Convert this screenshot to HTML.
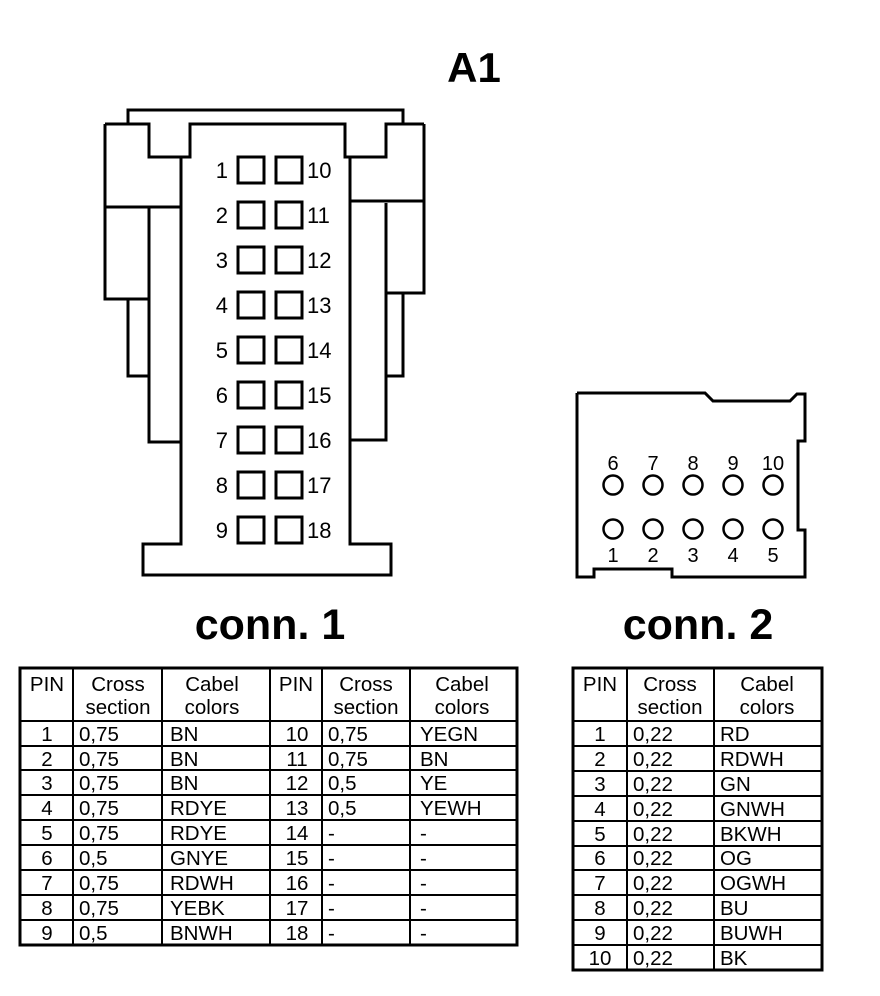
<!DOCTYPE html>
<html><head><meta charset="utf-8"><style>
html,body{margin:0;padding:0;background:#fff;}
svg{display:block;font-family:"Liberation Sans",Arial,sans-serif;}
</style></head><body>
<svg width="880" height="996" viewBox="0 0 880 996" xmlns="http://www.w3.org/2000/svg">
<g fill="none" stroke="#000" stroke-width="3" stroke-linejoin="miter">
<polyline points="128,124 128,110 403,110 403,124"/>
<polyline points="105,124 149,124 149,157 190,157 190,124 345,124 345,157 386,157 386,124 424,124"/>
<polyline points="105,124 105,299 149,299"/>
<polyline points="424,124 424,293 386,293"/>
<polyline points="181,157 181,544 143,544 143,575 391,575 391,544 350,544 350,157"/>
<line x1="105" y1="207" x2="181" y2="207"/>
<polyline points="149,207 149,442 181,442"/>
<polyline points="128,299 128,376 149,376"/>
<line x1="350" y1="201" x2="424" y2="201"/>
<polyline points="386,203 386,440 350,440"/>
<polyline points="403,293 403,376 386,376"/>
</g>
<g fill="none" stroke="#000" stroke-width="3">
<rect x="238" y="157" width="26" height="26"/><rect x="276" y="157" width="26" height="26"/>
<rect x="238" y="202" width="26" height="26"/><rect x="276" y="202" width="26" height="26"/>
<rect x="238" y="247" width="26" height="26"/><rect x="276" y="247" width="26" height="26"/>
<rect x="238" y="292" width="26" height="26"/><rect x="276" y="292" width="26" height="26"/>
<rect x="238" y="337" width="26" height="26"/><rect x="276" y="337" width="26" height="26"/>
<rect x="238" y="382" width="26" height="26"/><rect x="276" y="382" width="26" height="26"/>
<rect x="238" y="427" width="26" height="26"/><rect x="276" y="427" width="26" height="26"/>
<rect x="238" y="472" width="26" height="26"/><rect x="276" y="472" width="26" height="26"/>
<rect x="238" y="517" width="26" height="26"/><rect x="276" y="517" width="26" height="26"/>
</g>
<g font-size="22" fill="#000" text-anchor="end">
<text x="228" y="178">1</text><text x="228" y="223">2</text><text x="228" y="268">3</text>
<text x="228" y="313">4</text><text x="228" y="358">5</text><text x="228" y="403">6</text>
<text x="228" y="448">7</text><text x="228" y="493">8</text><text x="228" y="538">9</text>
</g>
<g font-size="22" fill="#000">
<text x="307" y="178">10</text><text x="307" y="223">11</text><text x="307" y="268">12</text>
<text x="307" y="313">13</text><text x="307" y="358">14</text><text x="307" y="403">15</text>
<text x="307" y="448">16</text><text x="307" y="493">17</text><text x="307" y="538">18</text>
</g>
<text x="474" y="82" font-size="42" font-weight="bold" text-anchor="middle">A1</text>
<text x="270" y="639" font-size="43" font-weight="bold" text-anchor="middle">conn. 1</text>
<text x="698" y="639" font-size="43" font-weight="bold" text-anchor="middle">conn. 2</text>

<polyline fill="none" stroke="#000" stroke-width="3" points="577,393 705,393 713,401 790,401 797,394 805,394 805,441 798,441 798,530 805,530 805,577 672,577 672,569 594,569 594,577 577,577 577,393"/>
<g fill="none" stroke="#000" stroke-width="2.5">
<circle cx="613" cy="485" r="9.5"/><circle cx="653" cy="485" r="9.5"/><circle cx="693" cy="485" r="9.5"/><circle cx="733" cy="485" r="9.5"/><circle cx="773" cy="485" r="9.5"/>
<circle cx="613" cy="529" r="9.5"/><circle cx="653" cy="529" r="9.5"/><circle cx="693" cy="529" r="9.5"/><circle cx="733" cy="529" r="9.5"/><circle cx="773" cy="529" r="9.5"/>
</g>
<g font-size="20" text-anchor="middle">
<text x="613" y="470">6</text><text x="653" y="470">7</text><text x="693" y="470">8</text><text x="733" y="470">9</text><text x="773" y="470">10</text>
<text x="613" y="562">1</text><text x="653" y="562">2</text><text x="693" y="562">3</text><text x="733" y="562">4</text><text x="773" y="562">5</text>
</g>

<!-- Table 1 -->
<g stroke="#000" stroke-width="2" fill="none">
<rect x="20" y="668" width="497" height="277" stroke-width="3"/>
<line x1="73" y1="668" x2="73" y2="945"/><line x1="162" y1="668" x2="162" y2="945"/>
<line x1="270" y1="668" x2="270" y2="945"/><line x1="322" y1="668" x2="322" y2="945"/>
<line x1="410" y1="668" x2="410" y2="945"/>
<line x1="20" y1="721" x2="517" y2="721"/><line x1="20" y1="746" x2="517" y2="746"/>
<line x1="20" y1="770" x2="517" y2="770"/><line x1="20" y1="795" x2="517" y2="795"/>
<line x1="20" y1="820" x2="517" y2="820"/><line x1="20" y1="845" x2="517" y2="845"/>
<line x1="20" y1="870" x2="517" y2="870"/><line x1="20" y1="895" x2="517" y2="895"/>
<line x1="20" y1="920" x2="517" y2="920"/>
</g>
<g font-size="20.5" text-anchor="middle">
<text x="47" y="691">PIN</text><text x="118" y="691">Cross</text><text x="118" y="714">section</text>
<text x="212" y="691">Cabel</text><text x="212" y="714">colors</text>
<text x="296" y="691">PIN</text><text x="366" y="691">Cross</text><text x="366" y="714">section</text>
<text x="462" y="691">Cabel</text><text x="462" y="714">colors</text>
<text x="47" y="741">1</text><text x="47" y="766">2</text><text x="47" y="790">3</text><text x="47" y="815">4</text><text x="47" y="840">5</text><text x="47" y="865">6</text><text x="47" y="890">7</text><text x="47" y="915">8</text><text x="47" y="940">9</text>
<text x="297" y="741">10</text><text x="297" y="766">11</text><text x="297" y="790">12</text><text x="297" y="815">13</text><text x="297" y="840">14</text><text x="297" y="865">15</text><text x="297" y="890">16</text><text x="297" y="915">17</text><text x="297" y="940">18</text>
</g>
<g font-size="20.5">
<text x="79" y="741">0,75</text><text x="79" y="766">0,75</text><text x="79" y="790">0,75</text><text x="79" y="815">0,75</text><text x="79" y="840">0,75</text><text x="79" y="865">0,5</text><text x="79" y="890">0,75</text><text x="79" y="915">0,75</text><text x="79" y="940">0,5</text>
<text x="170" y="741">BN</text><text x="170" y="766">BN</text><text x="170" y="790">BN</text><text x="170" y="815">RDYE</text><text x="170" y="840">RDYE</text><text x="170" y="865">GNYE</text><text x="170" y="890">RDWH</text><text x="170" y="915">YEBK</text><text x="170" y="940">BNWH</text>
<text x="328" y="741">0,75</text><text x="328" y="766">0,75</text><text x="328" y="790">0,5</text><text x="328" y="815">0,5</text><text x="328" y="840">-</text><text x="328" y="865">-</text><text x="328" y="890">-</text><text x="328" y="915">-</text><text x="328" y="940">-</text>
<text x="420" y="741">YEGN</text><text x="420" y="766">BN</text><text x="420" y="790">YE</text><text x="420" y="815">YEWH</text><text x="420" y="840">-</text><text x="420" y="865">-</text><text x="420" y="890">-</text><text x="420" y="915">-</text><text x="420" y="940">-</text>
</g>

<!-- Table 2 -->
<g stroke="#000" stroke-width="2" fill="none">
<rect x="573" y="668" width="249" height="302" stroke-width="3"/>
<line x1="627" y1="668" x2="627" y2="970"/><line x1="714" y1="668" x2="714" y2="970"/>
<line x1="573" y1="721" x2="822" y2="721"/><line x1="573" y1="746" x2="822" y2="746"/>
<line x1="573" y1="771" x2="822" y2="771"/><line x1="573" y1="796" x2="822" y2="796"/>
<line x1="573" y1="821" x2="822" y2="821"/><line x1="573" y1="846" x2="822" y2="846"/>
<line x1="573" y1="870" x2="822" y2="870"/><line x1="573" y1="895" x2="822" y2="895"/>
<line x1="573" y1="920" x2="822" y2="920"/><line x1="573" y1="945" x2="822" y2="945"/>
</g>
<g font-size="20.5" text-anchor="middle">
<text x="600" y="691">PIN</text><text x="670" y="691">Cross</text><text x="670" y="714">section</text>
<text x="767" y="691">Cabel</text><text x="767" y="714">colors</text>
<text x="600" y="741">1</text><text x="600" y="766">2</text><text x="600" y="791">3</text><text x="600" y="816">4</text><text x="600" y="841">5</text><text x="600" y="865">6</text><text x="600" y="890">7</text><text x="600" y="915">8</text><text x="600" y="940">9</text><text x="600" y="965">10</text>
</g>
<g font-size="20.5">
<text x="633" y="741">0,22</text><text x="633" y="766">0,22</text><text x="633" y="791">0,22</text><text x="633" y="816">0,22</text><text x="633" y="841">0,22</text><text x="633" y="865">0,22</text><text x="633" y="890">0,22</text><text x="633" y="915">0,22</text><text x="633" y="940">0,22</text><text x="633" y="965">0,22</text>
<text x="720" y="741">RD</text><text x="720" y="766">RDWH</text><text x="720" y="791">GN</text><text x="720" y="816">GNWH</text><text x="720" y="841">BKWH</text><text x="720" y="865">OG</text><text x="720" y="890">OGWH</text><text x="720" y="915">BU</text><text x="720" y="940">BUWH</text><text x="720" y="965">BK</text>
</g>
</svg>
</body></html>
